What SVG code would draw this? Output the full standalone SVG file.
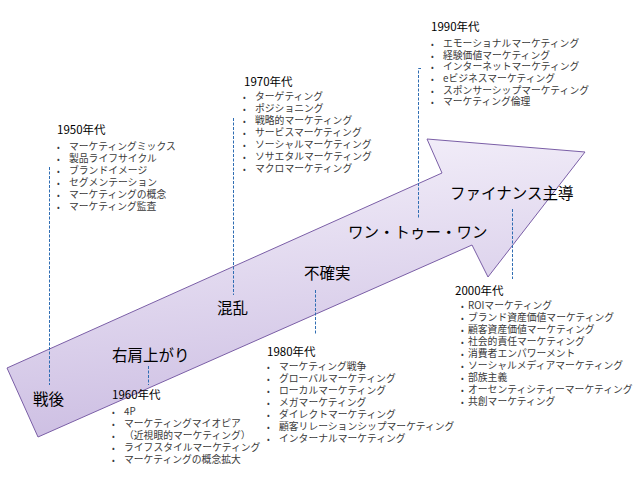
<svg xmlns="http://www.w3.org/2000/svg" width="640" height="480" viewBox="0 0 640 480">
<defs>
<linearGradient id="arrowFill" x1="0.35" y1="0" x2="0.55" y2="1">
<stop offset="0" stop-color="#f4f0fa"/>
<stop offset="1" stop-color="#cabbe1"/>
</linearGradient>
<style>
text{font-family:"Noto Sans CJK JP","Liberation Sans",sans-serif;}
.era{font-size:15.5px;fill:#000;}
.head{font-size:11.5px;fill:#000;}
.item{font-size:9.8px;fill:#3a3a3a;}
.bul{font-size:8px;fill:#3a3a3a;}
.conn{stroke:#2f6db3;stroke-width:1;stroke-dasharray:3 1.5;fill:none;}
</style>
</defs>
<rect width="640" height="480" fill="#fff"/>
<g id="arrow">
<path d="M7,368 L442,173 L427,139 L585,152 L488,277 L472,245 L38,437 Z" fill="url(#arrowFill)" stroke="#7a5ea6" stroke-width="1"/>
</g>
<g id="connectors">
<line class="conn" x1="49.5" y1="167" x2="49.5" y2="385"/>
<line class="conn" x1="148.5" y1="366" x2="148.5" y2="385"/>
<line class="conn" x1="233.5" y1="118" x2="233.5" y2="295"/>
<line class="conn" x1="315.5" y1="290" x2="315.5" y2="335"/>
<path class="conn" d="M421,68.5 H418.5 V218"/>
<line class="conn" x1="512.5" y1="209" x2="512.5" y2="279"/>
</g>
<g id="era-sengo"><text class="era" x="33" y="405">戦後</text></g>
<g id="era-migikata"><text class="era" x="112" y="361">右肩上がり</text></g>
<g id="era-konran"><text class="era" x="217" y="314">混乱</text></g>
<g id="era-fukakujitsu"><text class="era" x="304" y="279">不確実</text></g>
<g id="era-one-to-one"><text class="era" x="348" y="238">ワン・トゥー・ワン</text></g>
<g id="era-finance"><text class="era" x="450" y="199">ファイナンス主導</text></g>
<g id="decade-1950">
<text class="head" x="57" y="134">1950年代</text>
<g class="bul"><text x="57" y="150">•</text><text x="57" y="162">•</text><text x="57" y="174">•</text><text x="57" y="186">•</text><text x="57" y="198">•</text><text x="57" y="210">•</text></g>
<text class="item" x="69" y="150">マーケティングミックス</text>
<text class="item" x="69" y="162">製品ライフサイクル</text>
<text class="item" x="69" y="174">ブランドイメージ</text>
<text class="item" x="69" y="186">セグメンテーション</text>
<text class="item" x="69" y="198">マーケティングの概念</text>
<text class="item" x="69" y="210">マーケティング監査</text>
</g>
<g id="decade-1960">
<text class="head" x="112" y="399">1960年代</text>
<g class="bul"><text x="112" y="415">•</text><text x="112" y="427">•</text><text x="112" y="439">•</text><text x="112" y="451">•</text><text x="112" y="463">•</text></g>
<text class="item" x="124" y="415">4P</text>
<text class="item" x="124" y="427">マーケティングマイオピア</text>
<text class="item" x="124" y="439">（近視眼的マーケティング）</text>
<text class="item" x="124" y="451">ライフスタイルマーケティング</text>
<text class="item" x="124" y="463">マーケティングの概念拡大</text>
</g>
<g id="decade-1970">
<text class="head" x="244" y="86">1970年代</text>
<g class="bul"><text x="243" y="100">•</text><text x="243" y="112">•</text><text x="243" y="124">•</text><text x="243" y="136">•</text><text x="243" y="148">•</text><text x="243" y="160">•</text><text x="243" y="172">•</text></g>
<text class="item" x="255" y="100">ターゲティング</text>
<text class="item" x="255" y="112">ポジショニング</text>
<text class="item" x="255" y="124">戦略的マーケティング</text>
<text class="item" x="255" y="136">サービスマーケティング</text>
<text class="item" x="255" y="148">ソーシャルマーケティング</text>
<text class="item" x="255" y="160">ソサエタルマーケティング</text>
<text class="item" x="255" y="172">マクロマーケティング</text>
</g>
<g id="decade-1980">
<text class="head" x="267" y="356">1980年代</text>
<g class="bul"><text x="267" y="370">•</text><text x="267" y="382">•</text><text x="267" y="394">•</text><text x="267" y="406">•</text><text x="267" y="418">•</text><text x="267" y="430">•</text><text x="267" y="442">•</text></g>
<text class="item" x="279" y="370">マーケティング戦争</text>
<text class="item" x="279" y="382">グローバルマーケティング</text>
<text class="item" x="279" y="394">ローカルマーケティング</text>
<text class="item" x="279" y="406">メガマーケティング</text>
<text class="item" x="279" y="418">ダイレクトマーケティング</text>
<text class="item" x="279" y="430">顧客リレーションシップマーケティング</text>
<text class="item" x="279" y="442">インターナルマーケティング</text>
</g>
<g id="decade-1990">
<text class="head" x="431" y="31">1990年代</text>
<g class="bul"><text x="431" y="47">•</text><text x="431" y="59">•</text><text x="431" y="70">•</text><text x="431" y="82">•</text><text x="431" y="94">•</text><text x="431" y="105">•</text></g>
<text class="item" x="443" y="47">エモーショナルマーケティング</text>
<text class="item" x="443" y="59">経験価値マーケティング</text>
<text class="item" x="443" y="70">インターネットマーケティング</text>
<text class="item" x="443" y="82">eビジネスマーケティング</text>
<text class="item" x="443" y="94">スポンサーシップマーケティング</text>
<text class="item" x="443" y="105">マーケティング倫理</text>
</g>
<g id="decade-2000">
<text class="head" x="455" y="295">2000年代</text>
<g class="bul"><text x="461" y="309">•</text><text x="461" y="321">•</text><text x="461" y="333">•</text><text x="461" y="345">•</text><text x="461" y="357">•</text><text x="461" y="369">•</text><text x="461" y="381">•</text><text x="461" y="393">•</text><text x="461" y="405">•</text></g>
<text class="item" x="468" y="309">ROIマーケティング</text>
<text class="item" x="468" y="321">ブランド資産価値マーケティング</text>
<text class="item" x="468" y="333">顧客資産価値マーケティング</text>
<text class="item" x="468" y="345">社会的責任マーケティング</text>
<text class="item" x="468" y="357">消費者エンパワーメント</text>
<text class="item" x="468" y="369">ソーシャルメディアマーケティング</text>
<text class="item" x="468" y="381">部族主義</text>
<text class="item" x="468" y="393">オーセンティシティーマーケティング</text>
<text class="item" x="468" y="405">共創マーケティング</text>
</g>
</svg>
